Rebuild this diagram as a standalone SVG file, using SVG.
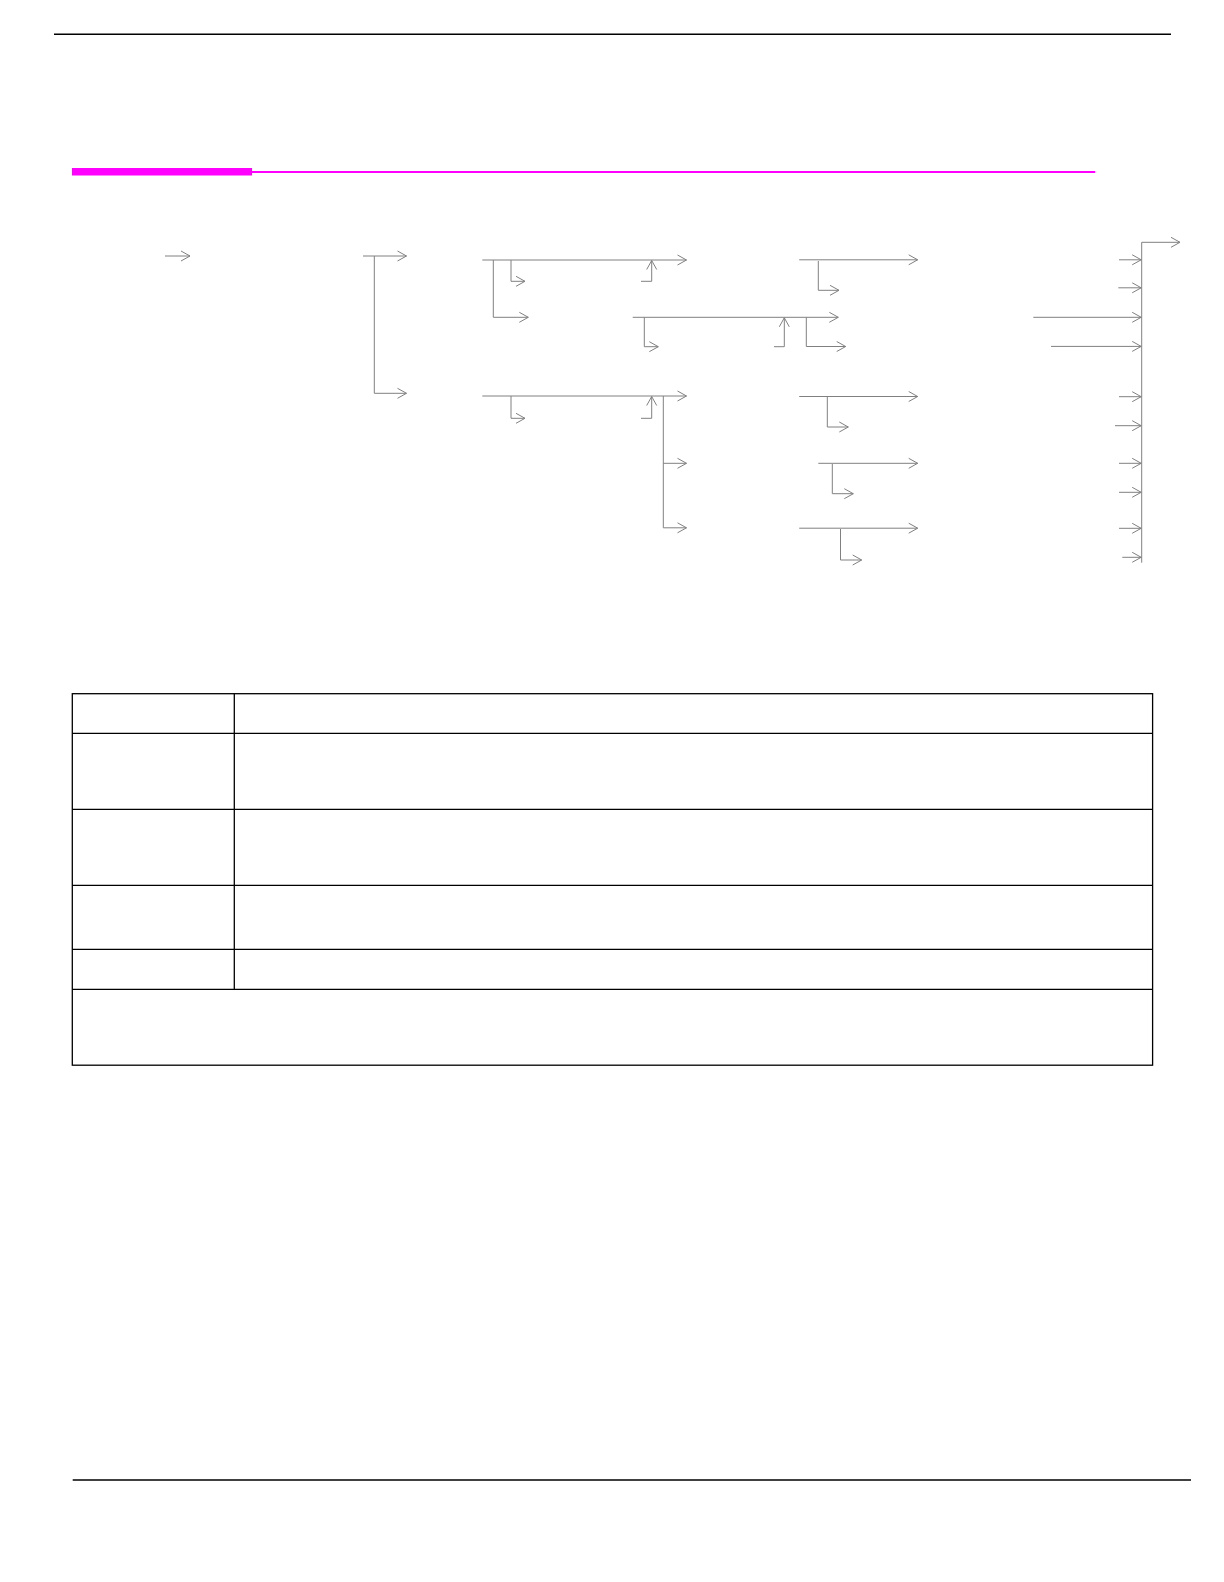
<svg xmlns="http://www.w3.org/2000/svg" width="1224" height="1582" viewBox="0 0 1224 1582">
<style>
.rule{stroke:#000;stroke-width:1.4;fill:none}
.mag{fill:#ff00ff}
.c{stroke:#808080;stroke-width:1;fill:none;marker-end:url(#ah)}
.p{stroke:#808080;stroke-width:1;fill:none}
.tb{stroke:#000;stroke-width:1.3;fill:none}
</style>
<defs>
<marker id="ah" markerUnits="userSpaceOnUse" markerWidth="12" markerHeight="12" viewBox="-10 -6 11 12" refX="0" refY="0" orient="auto">
<path d="M-9,-5 L0,0 L-9,5" fill="none" stroke="#808080" stroke-width="1"/>
</marker>
</defs>
<rect width="1224" height="1582" fill="#fff"/>
<g id="header">
<line class="rule" x1="54" y1="34.3" x2="1171" y2="34.3"/>
<rect class="mag" x="72" y="168" width="180" height="7.5"/>
<rect class="mag" x="252" y="171" width="843" height="2"/>
</g>
<g id="connectors">
<polyline class="c" points="165,256 190,256"/>
<polyline class="c" points="363,256 406.5,256"/>
<polyline class="c" points="374.3,256 374.3,393.3 406.5,393.3"/>
<!-- upper branch -->
<polyline class="c" points="482.3,260 686.5,260"/>
<polyline class="c" points="493.3,260 493.3,317.3 528.3,317.3"/>
<polyline class="c" points="511,260 511,281.3 525,281.3"/>
<polyline class="c" points="641,281.3 651.7,281.3 651.7,260.5"/>
<polyline class="c" points="632.7,317.3 838.3,317.3"/>
<polyline class="c" points="644.3,317.3 644.3,346.7 658.3,346.7"/>
<polyline class="c" points="774,346.7 784.3,346.7 784.3,317.8"/>
<polyline class="c" points="806.3,317.3 806.3,346.5 845.7,346.5"/>
<polyline class="c" points="799.2,259.8 917.7,259.8"/>
<polyline class="c" points="818.3,261 818.3,290.3 839,290.3"/>
<!-- lower branch -->
<polyline class="c" points="482.3,396 686.5,396"/>
<polyline class="c" points="511,396 511,418.3 525,418.3"/>
<polyline class="c" points="641,418.3 651.7,418.3 651.7,396.5"/>
<polyline class="p" points="663.3,396 663.3,527.8"/>
<polyline class="c" points="663.3,463.3 686.5,463.3"/>
<polyline class="c" points="663.3,527.8 686.5,527.8"/>
<polyline class="c" points="799.2,396.5 917.7,396.5"/>
<polyline class="c" points="827.3,397 827.3,427 848.3,427"/>
<polyline class="c" points="818.3,463.3 917.7,463.3"/>
<polyline class="c" points="832.3,464 832.3,493.7 853.3,493.7"/>
<polyline class="c" points="799.2,528.2 917.7,528.2"/>
<polyline class="c" points="840.5,529 840.5,560 861.7,560"/>
<!-- right bus -->
<polyline class="p" points="1141.7,562.7 1141.7,242.3"/>
<polyline class="c" points="1141.7,242.3 1180,242.3"/>
<polyline class="c" points="1119,259.8 1141.2,259.8"/>
<polyline class="c" points="1118.3,287.8 1141.2,287.8"/>
<polyline class="c" points="1033.3,317.3 1141.2,317.3"/>
<polyline class="c" points="1051,346.4 1141.2,346.4"/>
<polyline class="c" points="1119,396.7 1141.2,396.7"/>
<polyline class="c" points="1115,425.7 1141.2,425.7"/>
<polyline class="c" points="1119,463.3 1141.2,463.3"/>
<polyline class="c" points="1119,492.3 1141.2,492.3"/>
<polyline class="c" points="1119,528.3 1141.2,528.3"/>
<polyline class="c" points="1122.3,557.3 1141.2,557.3"/>
</g>
<g id="table">
<rect class="tb" x="72.3" y="693.7" width="1080.3" height="371.5"/>
<line class="tb" x1="72.3" y1="733.3" x2="1152.6" y2="733.3"/>
<line class="tb" x1="72.3" y1="809.3" x2="1152.6" y2="809.3"/>
<line class="tb" x1="72.3" y1="885.3" x2="1152.6" y2="885.3"/>
<line class="tb" x1="72.3" y1="949.3" x2="1152.6" y2="949.3"/>
<line class="tb" x1="72.3" y1="989.3" x2="1152.6" y2="989.3"/>
<line class="tb" x1="234.3" y1="693.7" x2="234.3" y2="989.3"/>
</g>
<g id="footer">
<line class="rule" x1="72.7" y1="1480" x2="1191" y2="1480"/>
</g>
</svg>
